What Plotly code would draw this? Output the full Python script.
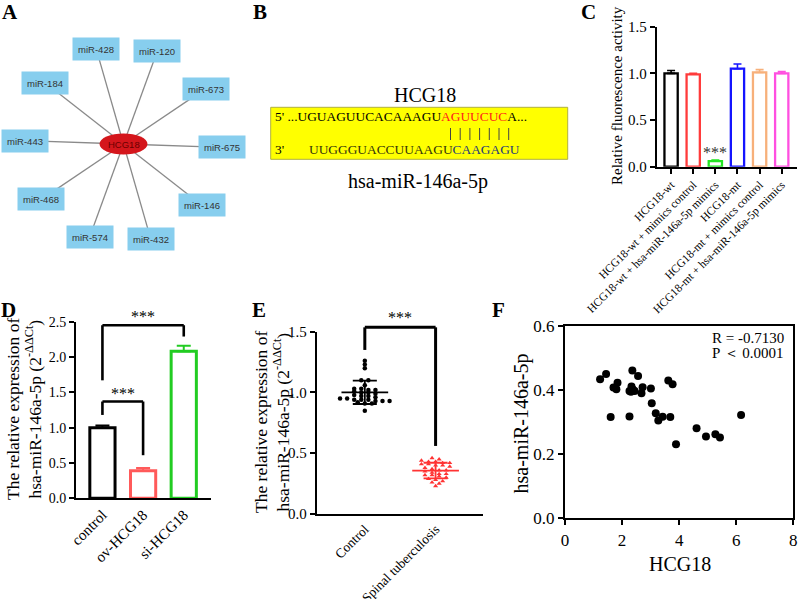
import numpy as np
import plotly.graph_objects as go

W, H = 798, 599
SERIF = "Liberation Serif, Times New Roman, serif"
SANS = "Liberation Sans, Arial, sans-serif"

# ---------------- data ----------------
# Panel A (interaction network)
hub_name = "HCG18"
mirna_nodes = ["miR-428", "miR-120", "miR-673", "miR-675", "miR-146",
               "miR-432", "miR-574", "miR-468", "miR-443", "miR-184"]

# Panel B (binding site)
seq_top_left = "5' ...UGUAGUUCACAAAGU"
seq_top_site = "AGUUCUC"
seq_top_right = "A..."
seq_bot_left = "UUGGGUACCUUAAGU"
seq_bot_site = "CAAGAGU"
n_pairs = 7

# Panel C (luciferase)
c_groups = ["HCG18-wt", "HCG18-wt + mimics control", "HCG18-wt + hsa-miR-146a-5p mimics",
            "HCG18-mt", "HCG18-mt + mimics control", "HCG18-mt + hsa-miR-146a-5p mimics"]
c_values = [1.00, 0.99, 0.06, 1.05, 1.01, 1.00]
c_errors = [0.03, 0.01, 0.01, 0.05, 0.03, 0.02]
c_colors = ["#000000", "#FF3B3B", "#22E622", "#1414FF", "#F7B07A", "#FF4FE0"]

# Panel D
d_groups = ["control", "ov-HCG18", "si-HCG18"]
d_values = [1.00, 0.39, 2.08]
d_errors = [0.03, 0.04, 0.08]
d_colors = ["#000000", "#FF5A5A", "#22CC22"]

# Panel E
e_groups = ["Control", "Spinal tuberculosis"]
e_control = [1.26, 1.23, 1.20, 1.10, 1.10, 1.06, 1.03, 1.03, 1.02, 1.02,
             1.01, 1.00, 1.00, 0.99, 0.98, 0.97, 0.97, 0.96, 0.95, 0.95,
             0.94, 0.94, 0.94, 0.93, 0.93, 0.93, 0.92, 0.91, 0.91, 0.85]
e_spinal = [0.46, 0.45, 0.44, 0.43, 0.43, 0.42, 0.42, 0.41, 0.41, 0.40,
            0.40, 0.39, 0.38, 0.37, 0.36, 0.36, 0.35, 0.34, 0.33, 0.33,
            0.32, 0.32, 0.31, 0.30, 0.29, 0.28, 0.27, 0.26, 0.25, 0.23]

# Panel F (correlation)
f_hcg18 = [1.23, 1.44, 1.70, 1.80, 1.84, 1.60, 2.26, 2.36, 2.56, 2.26,
           2.33, 2.38, 2.44, 2.68, 2.72, 3.01, 3.04, 3.18, 3.27, 3.42,
           3.69, 3.62, 3.77, 3.89, 4.61, 4.94, 5.27, 5.43, 6.17, 2.31]
f_mir = [0.434, 0.450, 0.408, 0.403, 0.423, 0.316, 0.318, 0.461, 0.444, 0.397,
         0.411, 0.402, 0.397, 0.390, 0.409, 0.405, 0.359, 0.328, 0.305, 0.317,
         0.316, 0.430, 0.418, 0.231, 0.281, 0.255, 0.262, 0.252, 0.322, 0.395]
f_r_text = "R = -0.7130"
f_p_text = "P \uFF1C 0.0001"


# ---------------- helpers ----------------
def px(x):
    return x / W


def py(y):
    return 1 - y / H


fig = go.Figure()
ann = []
shapes = []

AX = dict(showline=True, linecolor="black", linewidth=2, ticks="outside", tickwidth=2,
          ticklen=5, tickcolor="black", showgrid=False, zeroline=False,
          tickfont=dict(family=SERIF, size=14, color="black"), fixedrange=True)

# ---------------- Panel A ----------------
cx, cy, rad = 123.5, 144.0, 99.0
ang0, dang = 106.0, -36.0
ex, ey = [], []
node_pos = []
for i, name in enumerate(mirna_nodes):
    a = np.deg2rad(ang0 + dang * i)
    nx, ny = cx + rad * np.cos(a), cy - rad * np.sin(a)
    node_pos.append((nx, ny))
    ex += [cx, nx, None]
    ey += [cy, ny, None]
fig.add_trace(go.Scatter(x=ex, y=ey, mode="lines", line=dict(color="#8a8a8a", width=1.3),
                         xaxis="x5", yaxis="y5", hoverinfo="skip", showlegend=False))
for (nx, ny), name in zip(node_pos, mirna_nodes):
    ann.append(dict(x=nx, y=ny, xref="x5", yref="y5", text=name, showarrow=False,
                    bgcolor="#87CEEE", width=44, height=20, borderpad=1,
                    font=dict(family=SANS, size=9.5, color="#333333")))
shapes.append(dict(type="circle", xref="x5", yref="y5", x0=cx - 24, x1=cx + 24,
                   y0=cy - 10.5, y1=cy + 10.5, fillcolor="#D4161C", line=dict(width=0)))
ann.append(dict(x=cx, y=cy, xref="x5", yref="y5", text=hub_name, showarrow=False,
                font=dict(family=SANS, size=9.5, color="#6a0000")))

# ---------------- Panel B ----------------
shapes.append(dict(type="rect", xref="paper", yref="paper", x0=px(270.7), x1=px(567.7),
                   y0=py(159.3), y1=py(107.3), fillcolor="#FFFF00",
                   line=dict(color="#B0B040", width=1), layer="below"))
ann.append(dict(x=px(425), y=py(95), xref="paper", yref="paper", text=hub_name,
                showarrow=False, font=dict(family=SERIF, size=20, color="black")))
ann.append(dict(x=px(418), y=py(181), xref="paper", yref="paper", text="hsa-miR-146a-5p",
                showarrow=False, font=dict(family=SERIF, size=20, color="black")))
ann.append(dict(x=px(273), y=py(116.7), xref="paper", yref="paper", xanchor="left",
                text=seq_top_left + "<span style='color:#FF1A1A'>" + seq_top_site + "</span>" + seq_top_right,
                showarrow=False, font=dict(family=SERIF, size=13.4, color="black")))
ann.append(dict(x=px(273), y=py(149), xref="paper", yref="paper", xanchor="left",
                text="3'", showarrow=False, font=dict(family=SERIF, size=13.4, color="black")))
ann.append(dict(x=px(306.7), y=py(149), xref="paper", yref="paper", xanchor="left",
                text="<span style='color:#33330a'>" + seq_bot_left + "</span><span style='color:#1e3a78'>"
                     + seq_bot_site + "</span>",
                showarrow=False, font=dict(family=SERIF, size=13.4, color="black")))
for k in range(n_pairs):
    xb = 450.5 + k * 9.7
    shapes.append(dict(type="line", xref="paper", yref="paper", x0=px(xb), x1=px(xb),
                       y0=py(140), y1=py(128), line=dict(color="#444444", width=1)))

# ---------------- Panel C ----------------
for i in range(len(c_groups)):
    fig.add_trace(go.Bar(x=[i], y=[c_values[i]], width=0.6, xaxis="x", yaxis="y",
                         marker=dict(color="white", line=dict(color=c_colors[i], width=2.3)),
                         error_y=dict(type="data", array=[c_errors[i]], arrayminus=[0],
                                      symmetric=False, color=c_colors[i], thickness=1.6, width=4),
                         showlegend=False, hoverinfo="skip"))
ann.append(dict(x=2, y=c_values[2] + c_errors[2] + 0.08, xref="x", yref="y", text="***",
                showarrow=False, font=dict(family=SERIF, size=16, color="#333333")))
ann.append(dict(x=px(617), y=py(96), xref="paper", yref="paper", textangle=-90,
                text="Relative fluorescence activity", showarrow=False,
                font=dict(family=SERIF, size=15, color="black")))

# ---------------- Panel D ----------------
for i in range(len(d_groups)):
    fig.add_trace(go.Bar(x=[i], y=[d_values[i]], width=0.62, xaxis="x2", yaxis="y2",
                         marker=dict(color="white", line=dict(color=d_colors[i], width=3)),
                         error_y=dict(type="data", array=[d_errors[i]], arrayminus=[0],
                                      symmetric=False, color=d_colors[i], thickness=2, width=7),
                         showlegend=False, hoverinfo="skip"))

D_XR = [-0.65, 2.67]
D_YR = [0, 2.5]
E_XR = [-0.68, 1.67]
E_YR = [0, 1.5]


def dom(v, r):
    return (v - r[0]) / (r[1] - r[0])


def bracket(axn, xr, yr, xa, xb, ytop, yla, ylb, width=2.6):
    xrf, yrf = "x%s domain" % axn, "y%s domain" % axn
    pts = [(xa, yla, xa, ytop), (xa, ytop, xb, ytop), (xb, ytop, xb, ylb)]
    for (x0, y0, x1, y1) in pts:
        shapes.append(dict(type="line", xref=xrf, yref=yrf, x0=dom(x0, xr), x1=dom(x1, xr),
                           y0=dom(y0, yr), y1=dom(y1, yr), line=dict(color="black", width=width)))


def stars(axn, xr, yr, xv, yv):
    ann.append(dict(x=dom(xv, xr), y=dom(yv, yr), xref="x%s domain" % axn,
                    yref="y%s domain" % axn, text="***", showarrow=False,
                    font=dict(family=SERIF, size=16, color="black")))


bracket(2, D_XR, D_YR, 0, 1, 1.37, 1.18, 0.61)
bracket(2, D_XR, D_YR, 0, 2, 2.45, 1.67, 2.29)
stars(2, D_XR, D_YR, 0.5, 1.49)
stars(2, D_XR, D_YR, 1.0, 2.57)
ann.append(dict(x=px(13), y=py(409), xref="paper", yref="paper", textangle=-90,
                text="The relative expression of", showarrow=False,
                font=dict(family=SERIF, size=17.5, color="black")))
ann.append(dict(x=px(33.5), y=py(409), xref="paper", yref="paper", textangle=-90,
                text="hsa-miR-146a-5p (2<sup>-\u0394\u0394Ct</sup>)", showarrow=False,
                font=dict(family=SERIF, size=17.5, color="black")))

# ---------------- Panel E ----------------


def swarm(vals, center, bin_h, step):
    v = np.asarray(vals, dtype=float)
    bins = np.floor(v / bin_h + 1e-9).astype(int)
    xs = np.zeros(len(v))
    for b in np.unique(bins):
        idx = np.where(bins == b)[0]
        n = len(idx)
        xs[idx] = center + (np.arange(n) - (n - 1) / 2) * step
    return xs


for gi, (vals, col, sym) in enumerate([(e_control, "black", "circle"),
                                       (e_spinal, "#FF3333", "triangle-up")]):
    xs = swarm(vals, gi, 0.03, 0.1)
    fig.add_trace(go.Scatter(x=xs, y=vals, mode="markers", xaxis="x3", yaxis="y3",
                             marker=dict(color=col, size=4.5, symbol=sym, line=dict(width=0)),
                             showlegend=False, hoverinfo="skip", cliponaxis=False))
    m = float(np.mean(vals))
    s = float(np.std(vals, ddof=1))
    lx = [gi - 0.33, gi + 0.33, None, gi - 0.17, gi + 0.17, None,
          gi - 0.17, gi + 0.17, None, gi, gi]
    ly = [m, m, None, m + s, m + s, None, m - s, m - s, None, m - s, m + s]
    fig.add_trace(go.Scatter(x=lx, y=ly, mode="lines", xaxis="x3", yaxis="y3",
                             line=dict(color=col, width=1.8), showlegend=False, hoverinfo="skip"))

bracket(3, E_XR, E_YR, 0, 1, 1.536, 1.35, 0.56, width=3)
stars(3, E_XR, E_YR, 0.5, 1.62)
ann.append(dict(x=px(261), y=py(422), xref="paper", yref="paper", textangle=-90,
                text="The relative expression of", showarrow=False,
                font=dict(family=SERIF, size=17.5, color="black")))
ann.append(dict(x=px(281.5), y=py(422), xref="paper", yref="paper", textangle=-90,
                text="hsa-miR-146a-5p (2<sup>-\u0394\u0394Ct</sup>)", showarrow=False,
                font=dict(family=SERIF, size=17.5, color="black")))

# ---------------- Panel F ----------------
fig.add_trace(go.Scatter(x=f_hcg18, y=f_mir, mode="markers", xaxis="x4", yaxis="y4",
                         marker=dict(color="black", size=8), showlegend=False, hoverinfo="skip"))
ann.append(dict(x=px(786), y=py(337.7), xref="paper", yref="paper", xanchor="right",
                text=f_r_text, showarrow=False, font=dict(family=SERIF, size=15, color="black")))
ann.append(dict(x=px(786), y=py(353.3), xref="paper", yref="paper", xanchor="right",
                text=f_p_text, showarrow=False, font=dict(family=SERIF, size=15, color="black")))
ann.append(dict(x=px(521.5), y=py(424), xref="paper", yref="paper", textangle=-90,
                text="hsa-miR-146a-5p", showarrow=False,
                font=dict(family=SERIF, size=20, color="black")))
ann.append(dict(x=px(680), y=py(564), xref="paper", yref="paper",
                text="HCG18", showarrow=False, font=dict(family=SERIF, size=20, color="black")))

# ---------------- panel letters ----------------
for letter, (lx_, ly_) in zip("ABCDEF", [(10, 12), (260, 12), (588, 12),
                                        (8, 310), (259, 310), (498, 310)]):
    ann.append(dict(x=px(lx_), y=py(ly_), xref="paper", yref="paper", text="<b>%s</b>" % letter,
                    showarrow=False, font=dict(family=SERIF, size=21, color="black")))

for a in ann:
    a.setdefault("xanchor", "center")
    a.setdefault("yanchor", "middle")

# ---------------- layout ----------------
layout = dict(
    width=W, height=H, autosize=False,
    margin=dict(l=0, r=0, t=0, b=0, pad=0, autoexpand=False),
    paper_bgcolor="white", plot_bgcolor="white", showlegend=False,
    annotations=ann, shapes=shapes, barmode="overlay",
    xaxis=dict(AX, domain=[px(656.7), px(797)], range=[-0.65, 5.69], anchor="y",
               tickvals=list(range(len(c_groups))), ticktext=c_groups, tickangle=-45,
               tickfont=dict(family=SERIF, size=11.5, color="black")),
    yaxis=dict(AX, domain=[py(166.7), py(26.7)], range=[0, 1.5], anchor="x",
               dtick=0.5, tickformat=".1f", tickfont=dict(family=SERIF, size=15, color="black")),
    xaxis2=dict(AX, domain=[px(76), px(211)], range=D_XR, anchor="y2",
                tickvals=list(range(len(d_groups))), ticktext=d_groups, tickangle=-45, ticks="",
                tickfont=dict(family=SERIF, size=15, color="black")),
    yaxis2=dict(AX, domain=[py(498.3), py(321.7)], range=D_YR, anchor="x2",
                dtick=0.5, tickformat=".1f", tickfont=dict(family=SERIF, size=14, color="black")),
    xaxis3=dict(AX, domain=[px(316.7), px(483)], range=E_XR, anchor="y3",
                tickvals=list(range(len(e_groups))), ticktext=e_groups, tickangle=-45, ticks="",
                tickfont=dict(family=SERIF, size=13.5, color="black")),
    yaxis3=dict(AX, domain=[py(514), py(331.7)], range=E_YR, anchor="x3",
                dtick=0.5, tickformat=".1f", tickfont=dict(family=SERIF, size=15, color="black")),
    xaxis4=dict(AX, domain=[px(565), px(793.3)], range=[0, 8], anchor="y4", dtick=2,
                mirror=True, tickfont=dict(family=SERIF, size=17, color="black")),
    yaxis4=dict(AX, domain=[py(518.3), py(326)], range=[0, 0.6], anchor="x4", dtick=0.2,
                tickformat=".1f", mirror=True, tickfont=dict(family=SERIF, size=17, color="black")),
    xaxis5=dict(domain=[0, px(260)], range=[0, 260], anchor="y5", visible=False, fixedrange=True),
    yaxis5=dict(domain=[py(300), 1], range=[300, 0], anchor="x5", visible=False, fixedrange=True),
)
fig.update_layout(**layout)
fig.write_html("out.html", config={"displayModeBar": False, "staticPlot": True},
               post_script="document.body.style.margin='0';document.body.style.overflow='hidden';")
